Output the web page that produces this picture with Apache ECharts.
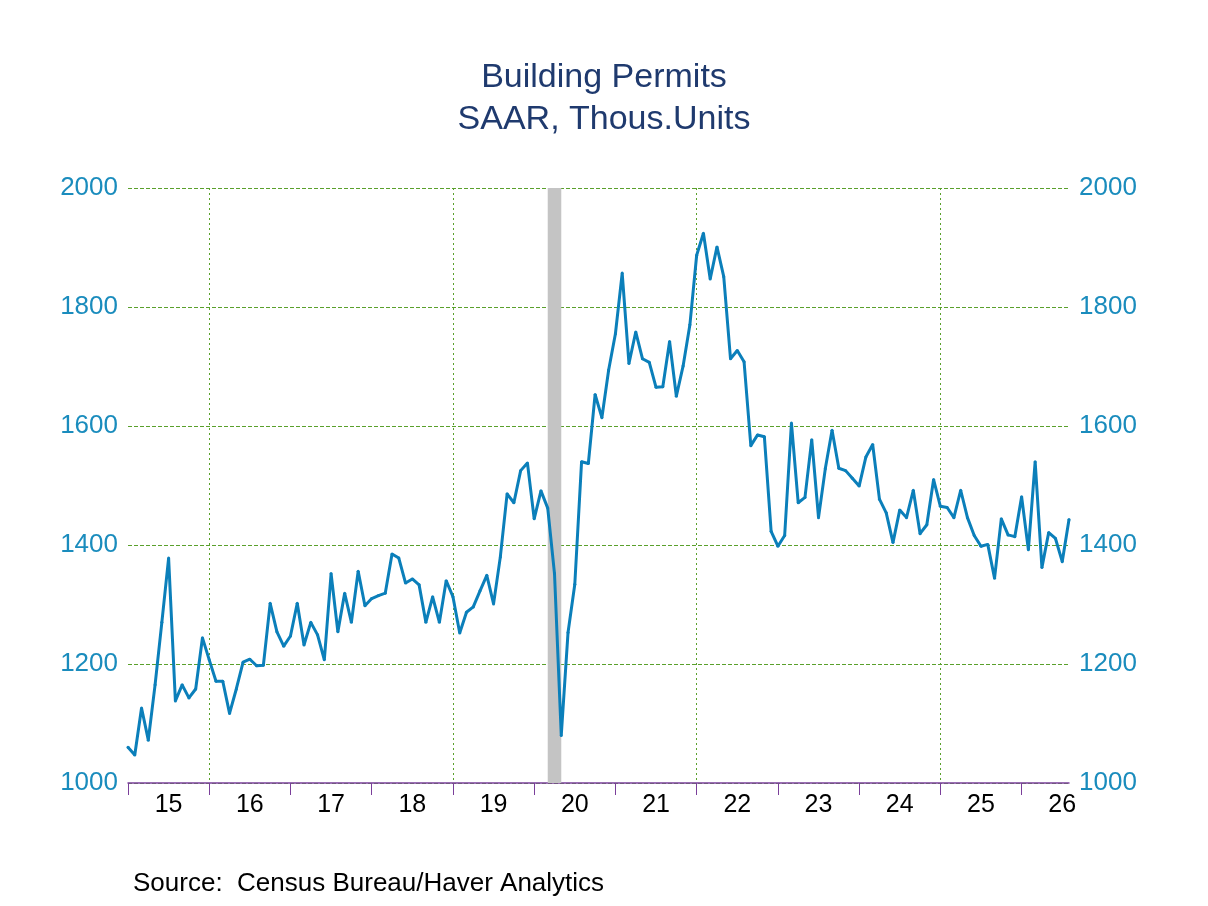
<!DOCTYPE html>
<html>
<head>
<meta charset="UTF-8">
<script src="https://cdn.jsdelivr.net/npm/echarts@6/dist/echarts.min.js"></script>
<style>
  html, body { margin: 0; padding: 0; background: #fff; }
  #chart { width: 1208px; height: 906px; }
</style>
</head>
<body>
<div id="chart"></div>
<script>
// monthly, Jan 2015 onward
const permits = [
  1060,1047,1126,1072,1165,1270,1378,1138,1165,1143,1158,1244,
  1207,1171,1171,1117,1158,1203,1208,1197,1198,1302,1254,1230,
  1247,1302,1232,1270,1249,1207,1352,1254,1319,1270,1356,1298,
  1310,1315,1319,1385,1378,1336,1343,1333,1270,1313,1270,1340,
  1313,1252,1287,1296,1323,1349,1301,1380,1486,1471,1525,1538,
  1444,1491,1462,1352,1080,1253,1334,1540,1537,1653,1614,1694,
  1755,1857,1705,1758,1713,1707,1665,1666,1742,1650,1701,1770,
  1887,1924,1847,1901,1851,1713,1727,1708,1567,1585,1582,1423,
  1398,1416,1605,1471,1480,1577,1446,1528,1593,1529,1525,1512,
  1499,1548,1569,1477,1454,1404,1459,1446,1492,1419,1434,1510,
  1465,1463,1446,1492,1446,1416,1398,1401,1344,1444,1417,1414,
  1481,1392,1540,1362,1421,1411,1372,1443
];
const startYear = 2015;
const months = permits.map((v, i) => String(i));
const gridYears = [12, 48, 84, 120];   // vertical gridlines at 2016, 2019, 2022, 2025
const recession = ['62', '64'];

const chart = echarts.init(document.getElementById('chart'));
const yAxisBase = {
  type: 'value', min: 1000, max: 2000, interval: 200,
  axisLine: { show: false }, axisTick: { show: false },
  axisLabel: { color: '#1a8cbd', fontSize: 26, fontFamily: 'Arial, Liberation Sans', margin: 10, formatter: (v) => String(v) }
};
chart.setOption({
  animation: false,
  title: {
    text: 'Building Permits\nSAAR, Thous.Units',
    left: 'center', top: 52,
    textStyle: { color: '#1f3a6e', fontSize: 34, fontWeight: 'normal', fontFamily: 'Arial, Liberation Sans', lineHeight: 42 }
  },
  graphic: [{
    type: 'text', left: 133, top: 871,
    style: { text: 'Source:  Census Bureau/Haver Analytics', fill: '#000', fontSize: 26, fontFamily: 'Arial, Liberation Sans' }
  }],
  grid: { left: 128, right: 139, top: 188, bottom: 123 },
  xAxis: {
    type: 'category', data: months, boundaryGap: false,
    axisLine: { lineStyle: { color: '#7a3f9a', width: 1.5 } },
    axisTick: { show: true, length: 12, interval: (i) => i % 12 === 0, lineStyle: { color: '#7a3f9a' } },
    axisLabel: {
      interval: (i) => i % 12 === 6, color: '#000', fontSize: 25, margin: 10,
      fontFamily: 'Arial, Liberation Sans',
      formatter: (v) => String((startYear + Math.floor(Number(v) / 12)) % 100)
    },
    splitLine: { show: true, interval: (i) => gridYears.includes(i), lineStyle: { color: '#5aa02c', type: [2, 3], width: 1 } }
  },
  yAxis: [
    Object.assign({}, yAxisBase, { position: 'left', splitLine: { lineStyle: { color: '#5aa02c', type: 'dashed', width: 1 } } }),
    Object.assign({}, yAxisBase, { position: 'right', splitLine: { show: false } })
  ],
  series: [{
    type: 'line', data: permits, symbol: 'circle', symbolSize: 3, showSymbol: true,
    lineStyle: { color: '#0b7fba', width: 3 }, itemStyle: { color: '#0b7fba' },
    markArea: {
      silent: true, itemStyle: { color: '#c4c4c4' },
      data: [[{ xAxis: recession[0] }, { xAxis: recession[1] }]]
    },
    z: 3
  }]
});
</script>
</body>
</html>
